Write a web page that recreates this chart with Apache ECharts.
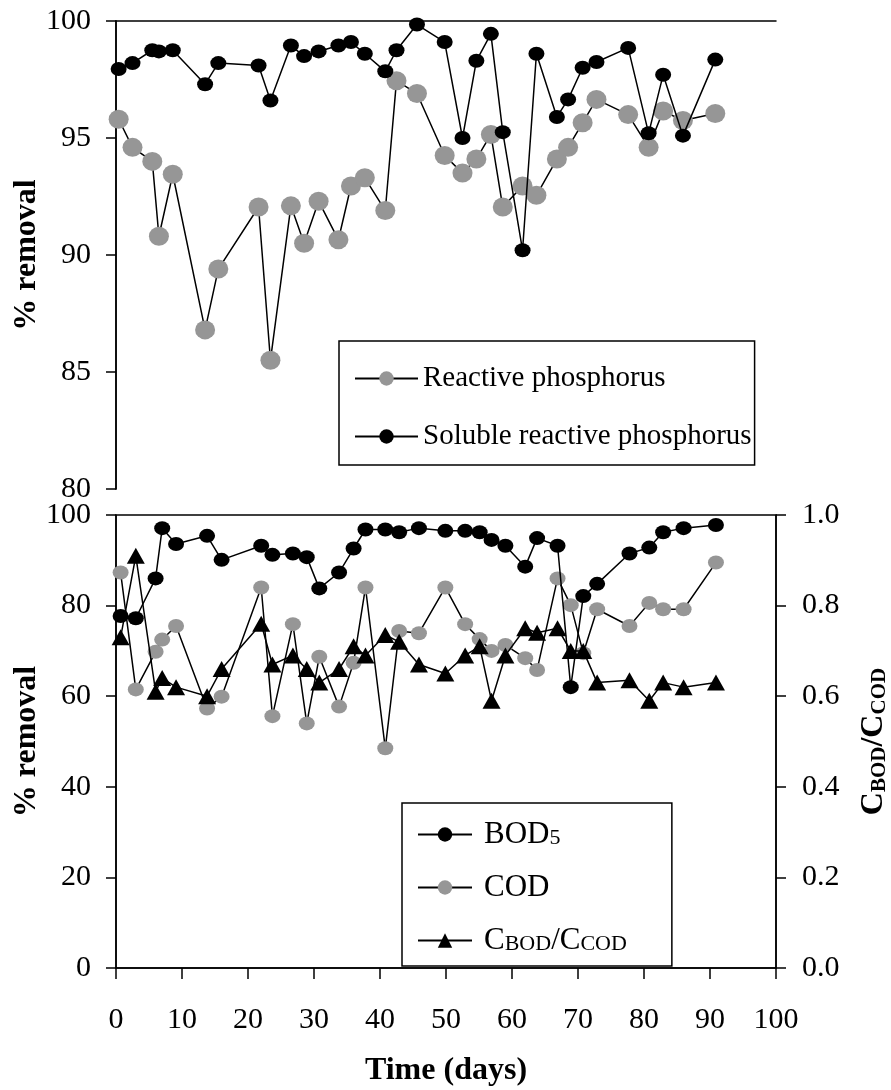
<!DOCTYPE html>
<html>
<head>
<meta charset="utf-8">
<script src="https://cdn.jsdelivr.net/npm/echarts@6/dist/echarts.min.js"></script>
<style>html,body{margin:0;padding:0;background:#fff}#c{width:891px;height:1090px}</style>
</head>
<body>
<div id="c"></div>
<script>
// ---- Top panel data (phosphorus removal, %) ----
var topDays = [0.4, 2.5, 5.5, 6.5, 8.6, 13.5, 15.5, 21.6, 23.4, 26.5, 28.5, 30.7, 33.7, 35.6, 37.7, 40.8, 42.5, 45.6, 49.8, 52.5, 54.6, 56.8, 58.6, 61.6, 63.7, 66.8, 68.5, 70.7, 72.8, 77.6, 80.7, 82.9, 85.9, 90.8];
var reactiveP = [95.8, 94.6, 94.0, 90.8, 93.45, 86.8, 89.4, 92.05, 85.5, 92.1, 90.5, 92.3, 90.65, 92.95, 93.3, 91.9, 97.45, 96.9, 94.25, 93.5, 94.1, 95.15, 92.05, 92.95, 92.55, 94.1, 94.6, 95.65, 96.65, 96.0, 94.6, 96.15, 95.75, 96.05];
var solubleRP = [97.95, 98.2, 98.75, 98.7, 98.75, 97.3, 98.2, 98.1, 96.6, 98.95, 98.5, 98.7, 98.95, 99.1, 98.6, 97.85, 98.75, 99.85, 99.1, 95.0, 98.3, 99.45, 95.25, 90.2, 98.6, 95.9, 96.65, 98.0, 98.25, 98.85, 95.2, 97.7, 95.1, 98.35];

// ---- Bottom panel data ----
var botDays = [0.7, 3.0, 6.0, 7.0, 9.1, 13.8, 16.0, 22.0, 23.7, 26.8, 28.9, 30.8, 33.8, 36.0, 37.8, 40.8, 42.9, 45.9, 49.9, 52.9, 55.1, 56.9, 59.0, 62.0, 63.8, 66.9, 68.9, 70.8, 72.9, 77.8, 80.8, 82.9, 86.0, 90.9];
var bod5 = [77.7, 77.2, 86.0, 97.1, 93.6, 95.4, 90.1, 93.2, 91.2, 91.5, 90.7, 83.8, 87.3, 92.6, 96.8, 96.8, 96.2, 97.1, 96.5, 96.5, 96.2, 94.5, 93.2, 88.6, 94.9, 93.2, 62.0, 82.1, 84.8, 91.5, 92.8, 96.2, 97.1, 97.8];
var cod = [87.3, 61.5, 69.8, 72.5, 75.5, 57.3, 59.9, 84.0, 55.6, 75.9, 54.0, 68.7, 57.7, 67.4, 84.0, 48.5, 74.4, 73.9, 84.0, 75.9, 72.6, 70.0, 71.3, 68.4, 65.8, 86.0, 80.1, 69.5, 79.2, 75.5, 80.6, 79.2, 79.2, 89.5];
var ratio = [0.73, 0.91, 0.61, 0.64, 0.62, 0.60, 0.66, 0.76, 0.67, 0.69, 0.66, 0.63, 0.66, 0.71, 0.69, 0.735, 0.72, 0.67, 0.65, 0.69, 0.71, 0.59, 0.69, 0.75, 0.74, 0.75, 0.70, 0.70, 0.63, 0.635, 0.59, 0.63, 0.62, 0.63];

// ---- Axis ticks ----
var xTicks = {min: 0, max: 100, interval: 10};
var topYTicks = {min: 80, max: 100, interval: 5};
var botYTicks = {min: 0, max: 100, interval: 20};
var ratioTicks = {min: 0, max: 1, interval: 0.2};

function pairs(xs, ys) { return xs.map(function (x, i) { return [x, ys[i]]; }); }

var FONT = 'Liberation Serif';
var GRAY = '#969696';
var BLACK = '#000000';
var FS = 30;      // tick labels
var TFS = 32;     // axis titles

var chart = echarts.init(document.getElementById('c'), null, {renderer: 'canvas'});

var axisLineStyle = {lineStyle: {color: BLACK, width: 1.5}};

var option = {
  backgroundColor: '#ffffff',
  animation: false,
  grid: [
    {left: 116, top: 21, width: 660, height: 468, show: false, containLabel: false, outerBoundsMode: 'none'},
    {left: 116, top: 515, width: 660, height: 453, show: true, borderColor: BLACK, borderWidth: 1.5,
     backgroundColor: 'transparent', containLabel: false, outerBoundsMode: 'none'}
  ],
  xAxis: [
    {gridIndex: 0, type: 'value', min: xTicks.min, max: xTicks.max, interval: xTicks.interval,
     axisLine: {show: false}, axisTick: {show: false}, axisLabel: {show: false}, splitLine: {show: false}},
    {gridIndex: 0, type: 'value', position: 'top', min: xTicks.min, max: xTicks.max,
     axisLine: axisLineStyle, axisTick: {show: false}, axisLabel: {show: false}, splitLine: {show: false}},
    {gridIndex: 1, type: 'value', min: xTicks.min, max: xTicks.max, interval: xTicks.interval,
     axisLine: {onZero: false, lineStyle: {color: BLACK, width: 1.5}},
     axisTick: {show: true, inside: false, length: 11, lineStyle: {color: BLACK, width: 1.5}},
     axisLabel: {show: true, margin: 37, color: BLACK, fontFamily: FONT, fontSize: FS},
     splitLine: {show: false},
     name: 'Time (days)', nameLocation: 'middle', nameGap: 87, nameMoveOverlap: false,
     nameTextStyle: {color: BLACK, fontFamily: FONT, fontSize: TFS, fontWeight: 'bold'}}
  ],
  yAxis: [
    {gridIndex: 0, type: 'value', min: topYTicks.min, max: topYTicks.max, interval: topYTicks.interval,
     axisLine: axisLineStyle,
     axisTick: {show: true, inside: false, length: 10, lineStyle: {color: BLACK, width: 1.5}},
     axisLabel: {margin: 25, color: BLACK, fontFamily: FONT, fontSize: FS},
     splitLine: {show: false},
     name: '% removal', nameLocation: 'middle', nameRotate: 90, nameGap: 73, nameMoveOverlap: false,
     nameTextStyle: {color: BLACK, fontFamily: FONT, fontSize: TFS, fontWeight: 'bold'}},
    {gridIndex: 0, type: 'value', position: 'right', min: topYTicks.min, max: topYTicks.max,
     axisLine: axisLineStyle, axisTick: {show: false}, axisLabel: {show: false}, splitLine: {show: false}},
    {gridIndex: 1, type: 'value', min: botYTicks.min, max: botYTicks.max, interval: botYTicks.interval,
     axisLine: axisLineStyle,
     axisTick: {show: true, inside: false, length: 10, lineStyle: {color: BLACK, width: 1.5}},
     axisLabel: {margin: 25, color: BLACK, fontFamily: FONT, fontSize: FS},
     splitLine: {show: false},
     name: '% removal', nameLocation: 'middle', nameRotate: 90, nameGap: 73, nameMoveOverlap: false,
     nameTextStyle: {color: BLACK, fontFamily: FONT, fontSize: TFS, fontWeight: 'bold'}},
    {gridIndex: 1, type: 'value', position: 'right', min: ratioTicks.min, max: ratioTicks.max, interval: ratioTicks.interval,
     axisLine: axisLineStyle,
     axisTick: {show: true, inside: false, length: 10, lineStyle: {color: BLACK, width: 1.5}},
     axisLabel: {margin: 26, color: BLACK, fontFamily: FONT, fontSize: FS,
                 formatter: function (v) { return v.toFixed(1); }},
     splitLine: {show: false},
     name: 'C{s|BOD}/C{s|COD}', nameLocation: 'middle', nameRotate: 90, nameGap: 82, nameMoveOverlap: false,
     nameTextStyle: {color: BLACK, fontFamily: FONT, fontSize: TFS, fontWeight: 'bold',
       rich: {s: {color: BLACK, fontFamily: FONT, fontSize: 21, fontWeight: 'bold', verticalAlign: 'bottom', lineHeight: 20}}}}
  ],
  legend: [
    {show: true, orient: 'vertical', left: 339, top: 341,
     data: ['Reactive phosphorus', 'Soluble reactive phosphorus'],
     selectedMode: false, itemWidth: 63, itemHeight: 18, itemGap: 29,
     padding: [23, 3, 14, 15], borderColor: BLACK, borderWidth: 1.5, backgroundColor: '#fff',
     textStyle: {color: BLACK, fontFamily: FONT, fontSize: 29, lineHeight: 28}},
    {show: true, orient: 'vertical', left: 402, top: 803,
     data: ['BOD5', 'COD', 'ratio'],
     selectedMode: false, itemWidth: 54, itemHeight: 18, itemGap: 22,
     padding: [16, 45, 10, 15], borderColor: BLACK, borderWidth: 1.5, backgroundColor: '#fff',
     formatter: function (n) {
       if (n === 'BOD5') return 'BOD{sub|5}';
       if (n === 'COD') return 'COD';
       return 'C{sub|BOD}/C{sub|COD}';
     },
     textStyle: {color: BLACK, fontFamily: FONT, fontSize: 31, lineHeight: 30, padding: [0, 0, 0, 7],
       rich: {sub: {color: BLACK, fontFamily: FONT, fontSize: 22, verticalAlign: 'bottom', lineHeight: 21}}}}
  ],
  series: [
    {name: 'Reactive phosphorus', type: 'line', xAxisIndex: 0, yAxisIndex: 0,
     data: pairs(topDays, reactiveP), symbol: 'circle', symbolSize: [20, 19],
     itemStyle: {color: GRAY}, lineStyle: {color: BLACK, width: 1.5}, z: 2},
    {name: 'Soluble reactive phosphorus', type: 'line', xAxisIndex: 0, yAxisIndex: 0,
     data: pairs(topDays, solubleRP), symbol: 'circle', symbolSize: [16, 14],
     itemStyle: {color: BLACK}, lineStyle: {color: BLACK, width: 1.5}, z: 3},
    {name: 'COD', type: 'line', xAxisIndex: 2, yAxisIndex: 2,
     data: pairs(botDays, cod), symbol: 'circle', symbolSize: [16, 14],
     itemStyle: {color: GRAY}, lineStyle: {color: BLACK, width: 1.5}, z: 2},
    {name: 'BOD5', type: 'line', xAxisIndex: 2, yAxisIndex: 2,
     data: pairs(botDays, bod5), symbol: 'circle', symbolSize: [16, 14],
     itemStyle: {color: BLACK}, lineStyle: {color: BLACK, width: 1.5}, z: 3},
    {name: 'ratio', type: 'line', xAxisIndex: 2, yAxisIndex: 3,
     data: pairs(botDays, ratio), symbol: 'triangle', symbolSize: [18, 16],
     itemStyle: {color: BLACK}, lineStyle: {color: BLACK, width: 1.5}, z: 4}
  ]
};
chart.setOption(option);
</script>
</body>
</html>
